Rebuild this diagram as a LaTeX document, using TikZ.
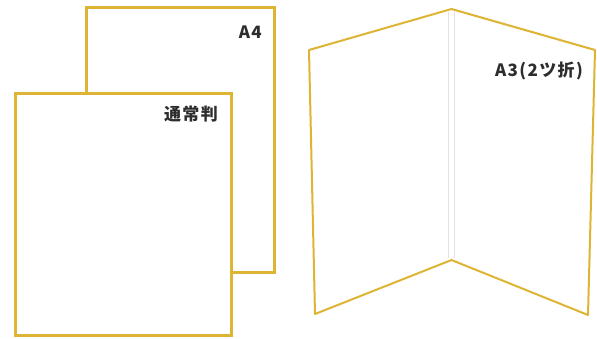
\documentclass[tikz,border=0pt]{standalone}
\usepackage{fontspec}
\newfontfamily\cjk[LetterSpace=8]{Noto Sans CJK JP}
\definecolor{gold}{RGB}{222,180,52}
\definecolor{txt}{RGB}{45,45,45}
\definecolor{fold}{RGB}{225,225,225}
\begin{document}
\begin{tikzpicture}[x=1pt,y=-1pt,
  sheet/.style={draw=gold,line width=3pt,fill=white},
  leaf/.style={draw=gold,line width=2pt,line join=round,fill=white},
  foldline/.style={draw=fold,line width=1.2pt},
  lbl/.style={font=\cjk\bfseries\fontsize{17}{19}\selectfont,text=txt,inner sep=0pt}]
\useasboundingbox (0,0) rectangle (597,338);
% A4 back sheet
\draw[sheet] (86,7) rectangle (274,272);
\node[lbl,anchor=east] (a4) at (262,32) {A4};
% normal front sheet
\draw[sheet] (15,93) rectangle (231,335);
\node[lbl,anchor=east] (norm) at (218,114) {通常判};
% A3 folded
\coordinate (lt) at (309,50);
\coordinate (tc) at (451.5,9);
\coordinate (rt) at (595,50);
\coordinate (rb) at (588,315);
\coordinate (bc) at (451.5,260);
\coordinate (lb) at (315,314);
\draw[leaf] (lt) -- (tc) -- (rt) -- (rb) -- (bc) -- (lb) -- cycle;
\coordinate (f1t) at (448.5,12);
\coordinate (f1b) at (448.5,258);
\coordinate (f2t) at (454.5,12);
\coordinate (f2b) at (454.5,258);
\draw[foldline] (f1t) -- (f1b);
\draw[foldline] (f2t) -- (f2b);
\node[lbl,anchor=east] (a3) at (583,71) {A3(2ツ折)};
\end{tikzpicture}
\end{document}
